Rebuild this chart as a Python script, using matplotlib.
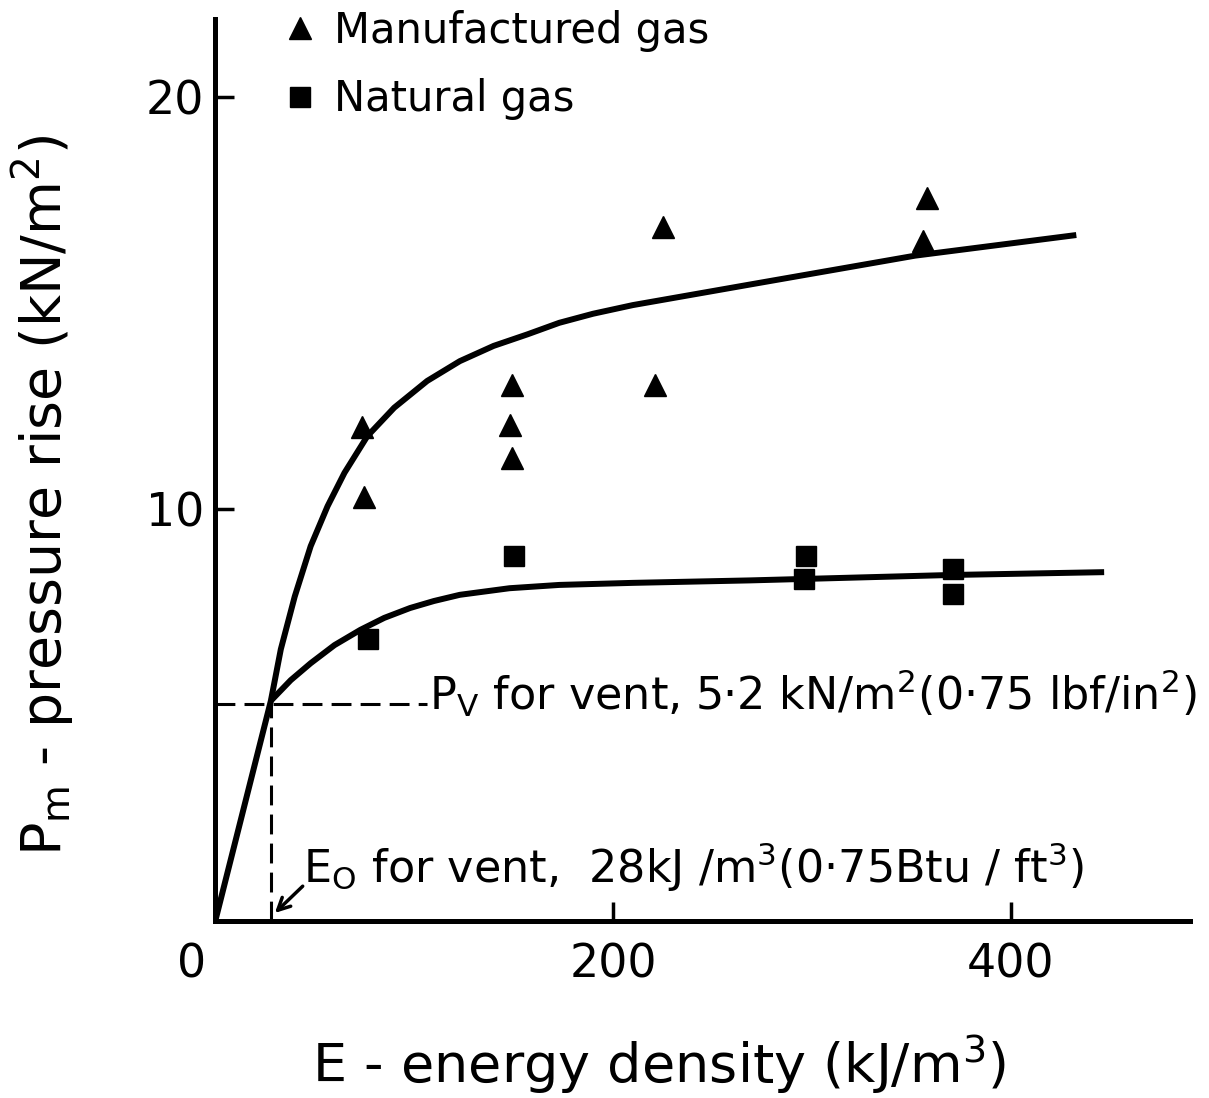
import matplotlib
matplotlib.use("Agg")
import matplotlib.pyplot as plt

# ---- data ----
manuf_E = [74, 75, 149, 148, 149, 221, 225, 358, 356]
manuf_P = [12.0, 10.3, 13.0, 12.05, 11.25, 13.0, 16.85, 17.55, 16.5]

natural_E = [77, 150, 297, 296, 371, 371]
natural_P = [6.85, 8.85, 8.85, 8.3, 8.55, 7.95]

upper_E = [0, 28, 33, 40, 48, 56.5, 65, 76.5, 90, 106.6, 123, 140, 157, 173,
           190, 210, 269, 352, 433]
upper_P = [0, 5.35, 6.6, 7.88, 9.1, 10.07, 10.88, 11.77, 12.46, 13.11, 13.59,
           13.96, 14.24, 14.52, 14.74, 14.95, 15.45, 16.15, 16.65]

lower_E = [28, 38, 48, 60, 73, 85, 98, 110, 123, 148, 173, 210, 269, 369, 447]
lower_P = [5.35, 5.85, 6.26, 6.7, 7.07, 7.36, 7.6, 7.77, 7.92, 8.08, 8.16,
           8.21, 8.27, 8.4, 8.47]

Pv = 5.2
E0 = 28

x_ticks = [200, 400]
y_ticks = [10, 20]

plt.rcParams['font.family'] = ['DejaVu Sans']
plt.rcParams['mathtext.default'] = 'regular'

fig = plt.figure(figsize=(12.09, 10.98), dpi=100)
ax = fig.add_axes([0.178, 0.161, 0.806, 0.822])

lw = 4.3
ax.plot(upper_E, upper_P, color='black', lw=lw, solid_capstyle='butt',
        solid_joinstyle='round', zorder=3)
ax.plot(lower_E, lower_P, color='black', lw=lw, solid_capstyle='butt',
        solid_joinstyle='round', zorder=3)

ax.plot(manuf_E, manuf_P, linestyle='none', marker='^', ms=16, color='black',
        label='Manufactured gas', zorder=4)
ax.plot(natural_E, natural_P, linestyle='none', marker='s', ms=14, color='black',
        label='Natural gas', zorder=4)

# dashed guide lines
ax.plot([0, 106.5], [Pv + 0.08, Pv + 0.08], color='black', lw=2.2,
        dashes=(6.5, 3), zorder=2)
ax.plot([E0, E0], [0, Pv + 0.08], color='black', lw=2.2, dashes=(6.5, 3), zorder=2)

ax.text(107.5, 5.13, r'$P_V$ for vent, 5·2 kN/m$^2$(0·75 lbf/in$^2$)',
        fontsize=32, ha='left', va='baseline')
ax.text(44, 0.92, r'$E_O$ for vent,  28kJ /m$^3$(0·75Btu / ft$^3$)',
        fontsize=32, ha='left', va='baseline')
ax.annotate('', xy=(E0 + 2, 0.2), xytext=(E0 + 16, 0.85),
            arrowprops=dict(arrowstyle='->', color='black', lw=2.5,
                            shrinkA=0, shrinkB=0, mutation_scale=22))

ax.set_xlim(0, 490)
ax.set_ylim(0, 21.9)

for s in ['top', 'right']:
    ax.spines[s].set_visible(False)
for s in ['left', 'bottom']:
    ax.spines[s].set_linewidth(3.6)

ax.set_xticks(x_ticks)
ax.set_yticks(y_ticks)
ax.tick_params(axis='both', direction='in', length=14, width=2.5, labelsize=33)
ax.tick_params(axis='x', pad=15)
ax.tick_params(axis='y', pad=8)
ax.annotate('0', xy=(0, 0), xytext=(-17, -15), textcoords='offset points',
            fontsize=33, ha='center', va='top')

ax.set_xlabel(r'E - energy density (kJ/m$^3$)', fontsize=39, va='center')
ax.xaxis.set_label_coords(0.456, -0.159)
ax.set_ylabel(r'$P_m$ - pressure rise (kN/m$^2$)', fontsize=40, va='center')
ax.yaxis.set_label_coords(-0.176, 0.472)

leg = ax.legend(loc='upper left', bbox_to_anchor=(0.053, 1.028), frameon=False,
                fontsize=30, handletextpad=0.4, labelspacing=0.63,
                handlelength=0.8, borderaxespad=0, borderpad=0.4)

fig.savefig('out.png', dpi=100, facecolor='white')
